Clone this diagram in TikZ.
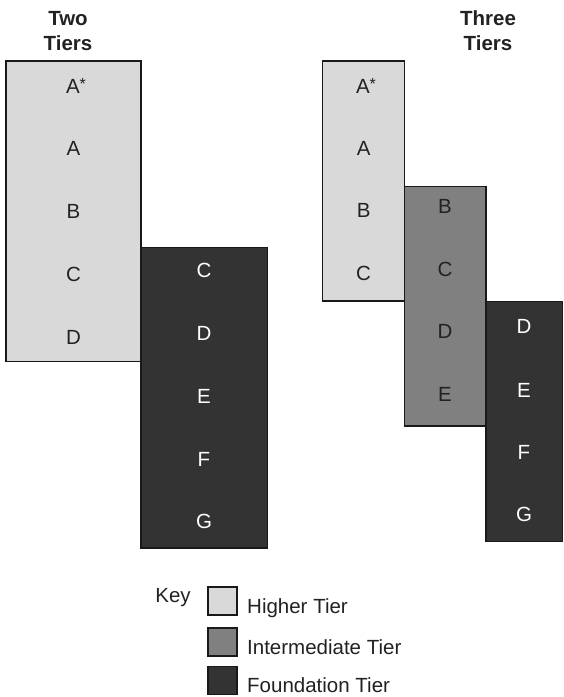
\documentclass[tikz,border=0pt]{standalone}
\usepackage{fontspec}
\setmainfont{Liberation Sans}
\definecolor{hi}{HTML}{D9D9D9}
\definecolor{midt}{HTML}{808080}
\definecolor{fnd}{HTML}{333333}
\definecolor{ink}{HTML}{222222}
\newcommand{\astr}{\raisebox{4pt}{\fontsize{16}{16}\selectfont *}}
\begin{document}
\begin{tikzpicture}[x=1pt,y=-1pt,
  tier/.style={draw=black!90, line width=1.2pt, inner sep=0pt, outer sep=0pt},
  higher/.style={tier, fill=hi},
  inter/.style={tier, fill=midt},
  found/.style={tier, fill=fnd},
  lab/.style={font=\fontsize{20.5}{24}\selectfont, text=ink, anchor=base, inner sep=0pt},
  wlab/.style={lab, text=white},
  klab/.style={lab, anchor=base west},
  ttl/.style={font=\fontsize{20.5}{26}\selectfont\bfseries, text=ink, anchor=base, inner sep=0pt},
  swatch/.style={minimum width=29pt, minimum height=28pt}
]
\useasboundingbox (0,0) rectangle (563,697);

% titles
\node[ttl] (t2a) at (68,25) {Two};
\node[ttl] (t2b) at (68,50.7) {Tiers};
\node[ttl] (t3a) at (488,25) {Three};
\node[ttl] (t3b) at (488,50.7) {Tiers};

% two tiers
\node[higher, minimum width=135pt, minimum height=300.5pt] (L1) at (73.5,211.25) {};
\node[found, minimum width=126.5pt, minimum height=300.5pt] (L2) at (204.25,397.75) {};

\node[lab] (l1a) at (76,93) {A\astr};
\node[lab] (l1b) at (73.5,155) {A};
\node[lab] (l1c) at (73.5,218) {B};
\node[lab] (l1d) at (73.5,281) {C};
\node[lab] (l1e) at (73.5,344) {D};

\node[wlab] (l2a) at (204,277) {C};
\node[wlab] (l2b) at (204,340) {D};
\node[wlab] (l2c) at (204,403) {E};
\node[wlab] (l2d) at (204,466) {F};
\node[wlab] (l2e) at (204,528) {G};

% three tiers
\node[higher, minimum width=82pt, minimum height=240pt] (R1) at (363.6,181) {};
\node[inter, minimum width=81.5pt, minimum height=239.3pt] (R2) at (445.25,306.35) {};
\node[found, minimum width=76.5pt, minimum height=240pt] (R3) at (524.25,421.6) {};

\node[lab] (r1a) at (366,93) {A\astr};
\node[lab] (r1b) at (363.6,155) {A};
\node[lab] (r1c) at (363.6,217) {B};
\node[lab] (r1d) at (363.6,280) {C};

\node[lab] (r2a) at (445,213) {B};
\node[lab] (r2b) at (445,276) {C};
\node[lab] (r2c) at (445,338) {D};
\node[lab] (r2d) at (445,401) {E};

\node[wlab] (r3a) at (524,333) {D};
\node[wlab] (r3b) at (524,397) {E};
\node[wlab] (r3c) at (524,459) {F};
\node[wlab] (r3d) at (524,521) {G};

% key
\node[lab] (key) at (173,602) {Key};
\node[higher, swatch] (k1) at (222.5,601) {};
\node[inter, swatch] (k2) at (222.5,642) {};
\node[found, swatch] (k3) at (222.5,680.5) {};
\node[klab] (k1t) at (247,613) {Higher Tier};
\node[klab] (k2t) at (247,654) {Intermediate Tier};
\node[klab] (k3t) at (247,692.5) {Foundation Tier};
\end{tikzpicture}
\end{document}
